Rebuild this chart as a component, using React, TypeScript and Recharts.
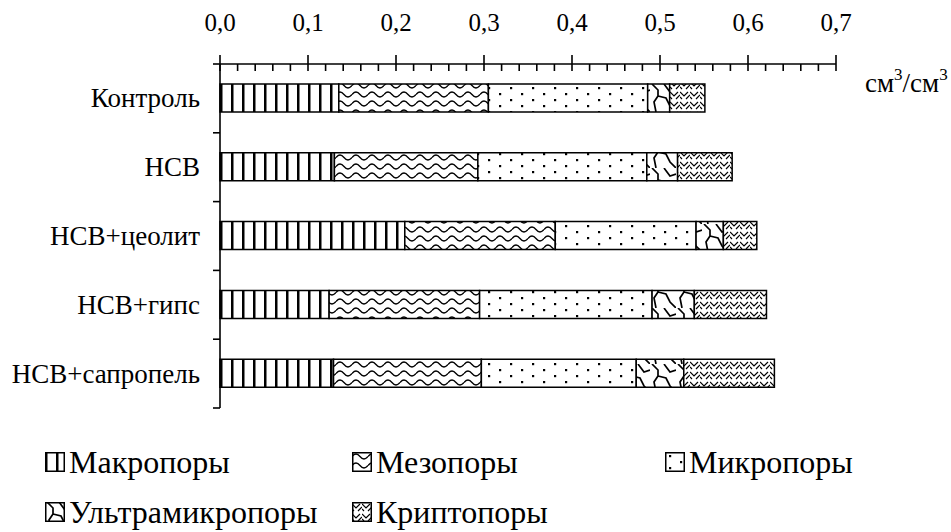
import React from 'react';
import { BarChart, Bar, XAxis, YAxis, Legend } from 'recharts';

const categories = ['Контроль', 'НСВ', 'НСВ+цеолит', 'НСВ+гипс', 'НСВ+сапропель'];
const macro = [0.135, 0.13, 0.21, 0.124, 0.129];
const meso = [0.17, 0.163, 0.171, 0.171, 0.168];
const micro = [0.181, 0.192, 0.16, 0.196, 0.176];
const ultra = [0.025, 0.035, 0.031, 0.048, 0.054];
const crypto = [0.04, 0.062, 0.038, 0.082, 0.103];

const seriesKeys = ['macro', 'meso', 'micro', 'ultra', 'crypto'];
const seriesNames = ['Макропоры', 'Мезопоры', 'Микропоры', 'Ультрамикропоры', 'Криптопоры'];
const majorTicks = [0, 0.1, 0.2, 0.3, 0.4, 0.5, 0.6, 0.7];

const data = categories.map((name, i) => ({
  name,
  macro: macro[i],
  meso: meso[i],
  micro: micro[i],
  ultra: ultra[i],
  crypto: crypto[i],
}));

// minor ticks every 0.02 between the major ones
const allTicks: number[] = [];
for (let i = 0; i <= 35; i++) allTicks.push(+(i * 0.02).toFixed(2));

const W = 951;
const H = 532;
const TOP = 64;
const BOTTOM = 124;
const BAND = (H - TOP - BOTTOM) / categories.length;
const FONT = "'Liberation Serif', 'Times New Roman', serif";

const isMajor = (v: number) => majorTicks.some((m) => Math.abs(m - v) < 1e-6);

const XTick = (props: any) => {
  const { x, y, payload } = props;
  const major = isMajor(payload.value);
  return (
    <g>
      <line x1={x} x2={x} y1={major ? y - 9 : y} y2={y + 7} stroke="#000" strokeWidth={1.6} />
      {major && (
        <text className="serif" x={x} y={y - 33} textAnchor="middle" fill="#000" fontSize={25}>
          {payload.value.toFixed(1).replace('.', ',')}
        </text>
      )}
    </g>
  );
};

const YTick = (props: any) => {
  const { x, y, payload, index } = props;
  const half = BAND / 2;
  return (
    <g>
      <text className="serif" x={x - 20} y={y + 9} textAnchor="end" fill="#000" fontSize={27}>
        {payload.value}
      </text>
      <line x1={x - 7} x2={x} y1={y - half} y2={y - half} stroke="#000" strokeWidth={1.6} />
      {index === categories.length - 1 && (
        <line x1={x - 7} x2={x} y1={y + half} y2={y + half} stroke="#000" strokeWidth={1.6} />
      )}
    </g>
  );
};

const UnitLabel = (props: any) => {
  const vb = props.viewBox;
  return (
    <text className="serif" x={vb.x + vb.width + 29} y={vb.y + vb.height + 28} fill="#000" fontSize={27}>
      <tspan>см</tspan>
      <tspan dy={-12} fontSize={17}>3</tspan>
      <tspan dy={12}>/см</tspan>
      <tspan dy={-12} fontSize={17}>3</tspan>
    </text>
  );
};

const legendCols = [45, 352, 665];
const legendRows = [452, 502];

const LegendContent = () => (
  <div style={{ position: 'relative', width: W, height: 92, fontFamily: FONT }}>
    {seriesKeys.map((key, i) => {
      const left = legendCols[i % 3];
      const top = legendRows[Math.floor(i / 3)] - 440;
      return (
        <div key={key} style={{ position: 'absolute', left, top, display: 'flex', alignItems: 'center', whiteSpace: 'nowrap' }}>
          <svg width={20} height={20} style={{ display: 'block' }}>
            <rect x={0.75} y={0.75} width={18.5} height={18.5} fill={`url(#p-${key})`} stroke="#000" strokeWidth={1.5} />
          </svg>
          <span style={{ fontSize: 32, lineHeight: '20px', marginLeft: 4, color: '#000' }}>{seriesNames[i]}</span>
        </div>
      );
    })}
  </div>
);

export default function App() {
  return (
    <div style={{ position: 'absolute', left: 0, top: 0, background: '#fff', fontFamily: FONT }}>
      <style>{`svg text, svg tspan, text.serif { font-family: 'Liberation Serif', 'Times New Roman', serif !important; }`}</style>
      <BarChart
        width={W}
        height={H}
        data={data}
        layout="vertical"
        margin={{ top: 0, right: 115, bottom: BOTTOM, left: 0 }}
        barSize={28}
        style={{ fontFamily: FONT }}
      >
        <defs>
          <pattern id="p-macro" patternUnits="userSpaceOnUse" width={11} height={28}>
            <rect width={11} height={28} fill="#fff" />
            <rect x={0} width={2.5} height={28} fill="#000" />
          </pattern>
          <pattern id="p-meso" patternUnits="userSpaceOnUse" width={16} height={9}>
            <rect width={16} height={9} fill="#fff" />
            <path d="M0 4.5 Q4 -0.5 8 4.5 T16 4.5" fill="none" stroke="#000" strokeWidth={1.3} />
          </pattern>
          <pattern id="p-micro" patternUnits="userSpaceOnUse" width={22} height={12}>
            <rect width={22} height={12} fill="#fff" />
            <rect x={4} y={3} width={2.2} height={2.2} fill="#000" />
            <rect x={15} y={9} width={2.2} height={2.2} fill="#000" />
          </pattern>
          <pattern id="p-ultra" patternUnits="userSpaceOnUse" width={26} height={28}>
            <rect width={26} height={28} fill="#fff" />
            <path
              d="M2 0 L8 6 L8 12 L4 18 L6 28 M14 0 L20 8 L26 6 M8 12 L16 14 L20 22 L26 28"
              fill="none"
              stroke="#000"
              strokeWidth={1.7}
            />
          </pattern>
          <pattern id="p-crypto" patternUnits="userSpaceOnUse" width={10} height={10}>
            <rect width={10} height={10} fill="#fff" />
            <path d="M0 2 L4 6 L8 2 M0 7 L2 9 M6 9 L10 5" fill="none" stroke="#000" strokeWidth={1.2} />
          </pattern>
        </defs>
        <XAxis
          type="number"
          orientation="top"
          domain={[0, 0.7]}
          ticks={allTicks}
          interval={0}
          height={TOP}
          tickSize={0}
          tickMargin={0}
          tickLine={false}
          tick={<XTick />}
          axisLine={{ stroke: '#000', strokeWidth: 1.6 }}
          label={UnitLabel}
        />
        <YAxis
          type="category"
          dataKey="name"
          width={220}
          tickSize={0}
          tickMargin={0}
          tickLine={false}
          tick={<YTick />}
          interval={0}
          axisLine={{ stroke: '#000', strokeWidth: 1.6 }}
        />
        <Legend
          layout="horizontal"
          verticalAlign="middle"
          align="center"
          wrapperStyle={{ left: 0, top: 440, width: W, height: 92, pointerEvents: 'none' }}
          content={<LegendContent />}
        />
        {seriesKeys.map((key, i) => (
          <Bar
            key={key}
            dataKey={key}
            name={seriesNames[i]}
            stackId="a"
            fill={`url(#p-${key})`}
            stroke="#000"
            strokeWidth={1.5}
            isAnimationActive={false}
          />
        ))}
      </BarChart>
    </div>
  );
}
